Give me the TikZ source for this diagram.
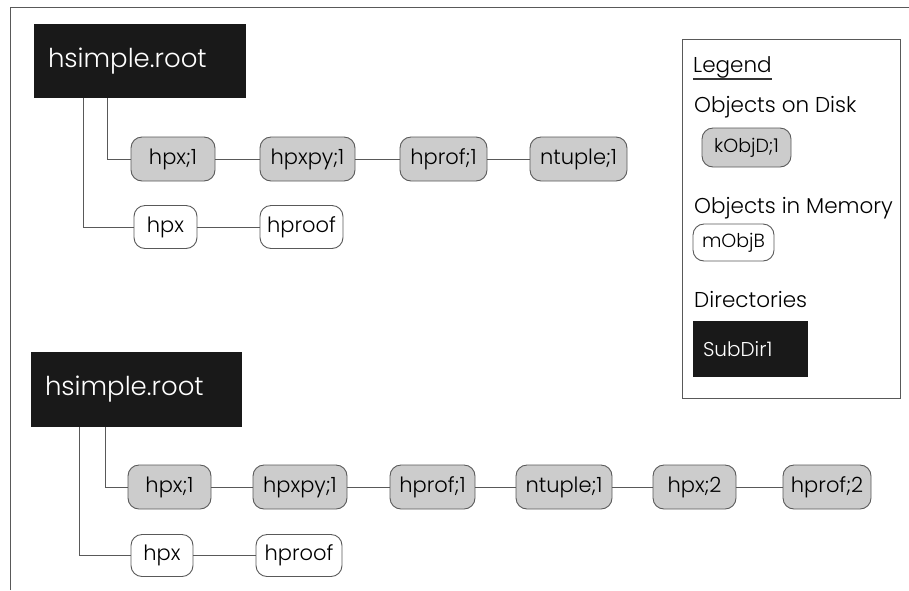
\documentclass[tikz,border=0pt]{standalone}
\usepackage{fontspec}
\setmainfont{Poppins}[UprightFont={* Light}]
\begin{document}
\begin{tikzpicture}[x=1pt,y=-1pt,
  every node/.style={font=\fontsize{21}{24}\selectfont, inner sep=0pt},
  diskobj/.style={draw=black!65, fill=black!20, line width=0.9pt, rounded corners=11pt, minimum height=44pt},
  memobj/.style={draw=black!65, fill=white, line width=0.9pt, rounded corners=11pt, minimum height=43pt},
  dirbox/.style={fill=black!90, text=white, minimum height=74pt, align=left},
  link/.style={draw=black!65, line width=1pt},
  legtext/.style={anchor=base west, font=\fontsize{21.5}{26}\selectfont}
]
\useasboundingbox (0,0) rectangle (909,590);
% frame
\draw[black!65, line width=1pt] (10,590) -- (10,7) -- (909,7);

% ---- top section ----
\node[dirbox, font=\fontsize{26}{30}\selectfont, inner xsep=14pt, text width=184pt] (root1) at (140,61) {hsimple.root};
\node[diskobj, minimum width=84pt] (a1) at (173,159) {hpx;1};
\node[diskobj, minimum width=95pt] (a2) at (307.5,159) {hpxpy;1};
\node[diskobj, minimum width=87pt] (a3) at (443.5,159) {hprof;1};
\node[diskobj, minimum width=97pt] (a4) at (578.5,159) {ntuple;1};
\node[memobj, minimum width=63pt] (m1) at (165.5,227) {hpx};
\node[memobj, minimum width=83pt] (m2) at (301.5,227) {hproof};

\draw[link] ([xshift=-33pt]root1.south) |- (a1.west);
\draw[link] ([xshift=-57pt]root1.south) |- (m1.west);
\draw[link] (a1) -- (a2);
\draw[link] (a2) -- (a3);
\draw[link] (a3) -- (a4);
\draw[link] (m1) -- (m2);

% ---- bottom section ----
\node[dirbox, font=\fontsize{26}{30}\selectfont, inner xsep=14pt, text width=183pt, minimum height=75pt] (root2) at (136.5,389.5) {hsimple.root};
\node[diskobj, minimum width=83pt] (b1) at (169.5,487) {hpx;1};
\node[diskobj, minimum width=94pt] (b2) at (300,487) {hpxpy;1};
\node[diskobj, minimum width=85pt] (b3) at (432.5,487) {hprof;1};
\node[diskobj, minimum width=96pt] (b4) at (564,487) {ntuple;1};
\node[diskobj, minimum width=83pt] (b5) at (694.5,487) {hpx;2};
\node[diskobj, minimum width=88pt] (b6) at (827,487) {hprof;2};
\node[memobj, minimum width=62pt, minimum height=42pt] (n1) at (162,555.5) {hpx};
\node[memobj, minimum width=86pt, minimum height=42pt] (n2) at (299,555.5) {hproof};

\draw[link] ([xshift=-31.5pt]root2.south) |- (b1.west);
\draw[link] ([xshift=-57.5pt]root2.south) |- (n1.west);
\draw[link] (b1) -- (b2);
\draw[link] (b2) -- (b3);
\draw[link] (b3) -- (b4);
\draw[link] (b4) -- (b5);
\draw[link] (b5) -- (b6);
\draw[link] (n1) -- (n2);

% ---- legend ----
\draw[black!65, line width=1pt] (682,39) rectangle (900,398);
\node[legtext] (lg) at (693,72) {Legend};
\draw[black!80, line width=1.2pt] (693,79) -- (lg.east |- 0,79);
\node[legtext] (ld) at (694,112) {Objects on Disk};
\node[diskobj, minimum width=89pt, minimum height=39pt, font=\fontsize{19}{22}\selectfont] (kd) at (746.5,147.5) {kObjD;1};
\node[legtext] (lm) at (694,213) {Objects in Memory};
\node[memobj, minimum width=81pt, minimum height=37pt, font=\fontsize{19}{22}\selectfont] (km) at (733.5,242.5) {mObjB};
\node[legtext] (ldir) at (694,307) {Directories};
\node[dirbox, minimum width=115pt, minimum height=56pt, inner xsep=10pt, text width=95pt, font=\fontsize{20}{24}\selectfont] (sd) at (750.5,349) {SubDir1};
\end{tikzpicture}
\end{document}
